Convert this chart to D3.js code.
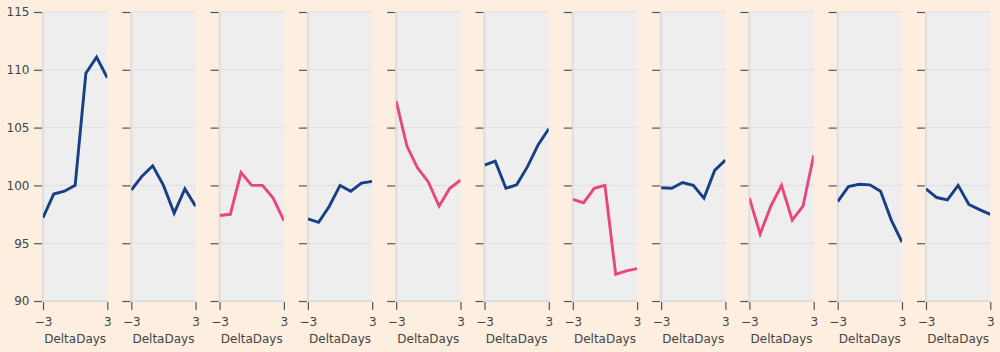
<!DOCTYPE html>
<html>
<head>
<meta charset="utf-8">
<script src="https://cdn.jsdelivr.net/npm/d3@7"></script>
<style>
  body { margin: 0; background: #fdeee0; }
  text { font-family: "DejaVu Sans", sans-serif; }
</style>
</head>
<body>
<div id="chart"></div>
<script>
// Data
const deltaDays = [-3, -2, -1, 0, 1, 2, 3]
const yTicks = [90, 95, 100, 105, 110, 115]
const xTicks = [-3, 3]
const seriesColors = ['navy', 'navy', 'pink', 'navy', 'pink', 'navy', 'pink', 'navy', 'pink', 'navy', 'navy']
const series1 = [97.2, 99.25, 99.5, 100, 109.7, 111.1, 109.3]
const series2 = [99.6, 100.8, 101.7, 100, 97.6, 99.7, 98.2]
const series3 = [97.4, 97.5, 101.1, 100, 100, 98.9, 96.95]
const series4 = [97.1, 96.8, 98.2, 100, 99.5, 100.2, 100.35]
const series5 = [107.3, 103.4, 101.5, 100.3, 98.2, 99.75, 100.45]
const series6 = [101.75, 102.1, 99.75, 100.05, 101.6, 103.5, 104.9]
const series7 = [98.8, 98.5, 99.75, 100, 92.3, 92.6, 92.8]
const series8 = [99.8, 99.75, 100.25, 100, 98.9, 101.3, 102.2]
const series9 = [98.9, 95.8, 98.2, 100, 97.0, 98.2, 102.6]
const series10 = [98.6, 99.9, 100.1, 100.05, 99.5, 97.0, 95.1]
const series11 = [99.7, 98.95, 98.75, 100, 98.35, 97.9, 97.5]
const allSeries = [series1, series2, series3, series4, series5, series6,
  series7, series8, series9, series10, series11]

// Dimensions
const dimensions = { width: 1000, height: 352 }
const plotTop = 12, plotBottom = 301
const firstLeft = 43, step = 88.3, panelW = 64.3
const colors = { navy: '#173f86', pink: '#e8467c' }

const svg = d3.select('#chart')
  .append('svg')
  .attr('width', dimensions.width)
  .attr('height', dimensions.height)

const y = d3.scaleLinear().domain([90, 115]).range([plotBottom, plotTop])
const x = d3.scaleLinear().domain([-3, 3]).range([0, panelW])

allSeries.forEach((data, i) => {
  const g = svg.append('g')
    .attr('transform', `translate(${firstLeft + i * step}, 0)`)

  g.append('rect')
    .attr('x', 0).attr('y', plotTop)
    .attr('width', panelW).attr('height', plotBottom - plotTop)
    .attr('fill', '#eeeeee')

  // grid
  g.selectAll('.grid')
    .data(yTicks)
    .join('line')
    .attr('x1', 0).attr('x2', panelW)
    .attr('y1', d => y(d)).attr('y2', d => y(d))
    .attr('stroke', '#dedede')
    .attr('stroke-width', 1)

  // spines
  g.append('line')
    .attr('x1', 0).attr('x2', 0).attr('y1', plotTop).attr('y2', plotBottom)
    .attr('stroke', '#dddddd').attr('stroke-width', 2)
  g.append('line')
    .attr('x1', 0).attr('x2', panelW).attr('y1', plotBottom).attr('y2', plotBottom)
    .attr('stroke', '#dddddd').attr('stroke-width', 2)

  // axes
  const yAxis = d3.axisLeft(y).tickValues(yTicks).tickSize(8).tickPadding(4.5)
  if (i > 0) yAxis.tickFormat('')
  const ya = g.append('g').attr('transform', 'translate(-1,0)').call(yAxis)
  ya.select('.domain').remove()
  ya.selectAll('line').attr('stroke', '#555').attr('stroke-width', 1.2)
  ya.selectAll('text').attr('fill', '#444').style('font-size', '12px')
    .style('font-family', '"DejaVu Sans", sans-serif')

  const xAxis = d3.axisBottom(x).tickValues(xTicks).tickSize(8).tickPadding(7)
    .tickFormat(d => d < 0 ? '\u2212' + Math.abs(d) : d)
  const xa = g.append('g').attr('transform', `translate(0,${plotBottom + 1})`).call(xAxis)
  xa.select('.domain').remove()
  xa.selectAll('line').attr('stroke', '#555').attr('stroke-width', 1.2)
  xa.selectAll('text').attr('fill', '#444').style('font-size', '12px')
    .style('font-family', '"DejaVu Sans", sans-serif')

  g.append('text')
    .attr('x', panelW / 2).attr('y', 343)
    .attr('text-anchor', 'middle')
    .attr('fill', '#444')
    .style('font-size', '12px')
    .text('DeltaDays')

  // line, clipped to panel
  const clipId = 'clip' + i
  g.append('clipPath').attr('id', clipId)
    .append('rect')
    .attr('x', 0).attr('y', plotTop)
    .attr('width', panelW).attr('height', plotBottom - plotTop)

  const line = d3.line()
    .x((d, j) => x(deltaDays[j]))
    .y(d => y(d))

  g.append('path')
    .datum(data)
    .attr('clip-path', `url(#${clipId})`)
    .attr('d', line)
    .attr('fill', 'none')
    .attr('stroke', colors[seriesColors[i]])
    .attr('stroke-width', 2.9)
    .attr('stroke-linejoin', 'miter')
})
</script>
</body>
</html>
